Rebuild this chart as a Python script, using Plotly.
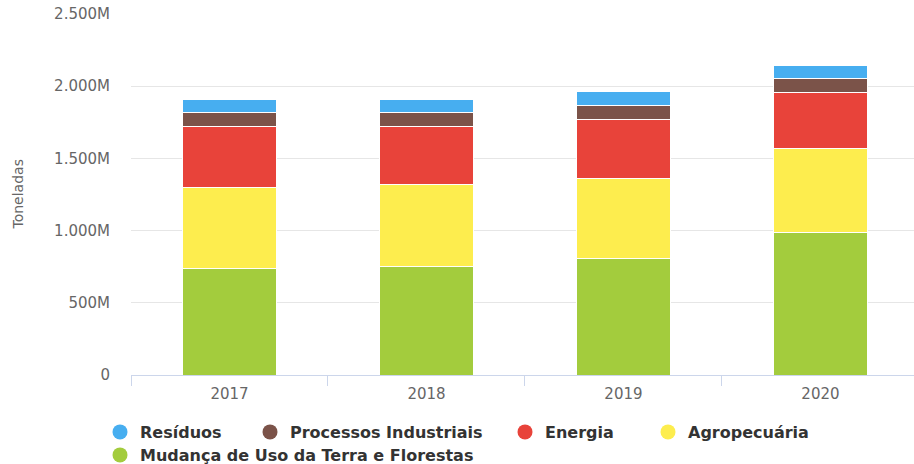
import plotly.graph_objects as go

# Emissões por setor (milhões de toneladas)
anos = ["2017", "2018", "2019", "2020"]
setores = [
    "Mudança de Uso da Terra e Florestas",
    "Agropecuária",
    "Energia",
    "Processos Industriais",
    "Resíduos",
]
mudanca_uso_terra = [736, 752, 807, 988]
agropecuaria = [563, 565, 556, 580]
energia = [425, 403, 407, 386]
processos_industriais = [92, 96, 97, 96]
residuos = [92, 92, 94, 93]

cores = {
    "Mudança de Uso da Terra e Florestas": "#a3cc3d",
    "Agropecuária": "#fded4e",
    "Energia": "#e8433a",
    "Processos Industriais": "#7b5349",
    "Resíduos": "#47aef0",
}
valores = {
    "Mudança de Uso da Terra e Florestas": mudanca_uso_terra,
    "Agropecuária": agropecuaria,
    "Energia": energia,
    "Processos Industriais": processos_industriais,
    "Resíduos": residuos,
}

y_ticks = [0, 500, 1000, 1500, 2000, 2500]
y_tick_text = ["0", "500M", "1.000M", "1.500M", "2.000M", "2.500M"]

# legend entries: (name, symbol centre x in px, row centre y in px)
itens_legenda = [
    ("Resíduos", 120, 432),
    ("Processos Industriais", 270, 432),
    ("Energia", 525, 432),
    ("Agropecuária", 668, 432),
    ("Mudança de Uso da Terra e Florestas", 120, 455),
]

PLOT_L, PLOT_W, PLOT_BOTTOM, PLOT_H = 131, 783, 375, 361

fig = go.Figure()

# stacked bars, bottom segment first
for s in setores:
    fig.add_trace(go.Bar(
        x=anos, y=valores[s], name=s, legendgroup=s, showlegend=False,
        marker=dict(color=cores[s], line=dict(color="#ffffff", width=1)),
    ))

leg_font = dict(family="DejaVu Sans", size=16, color="#333333", weight="bold")
legendas = {}
for i, (s, cx, cy) in enumerate(itens_legenda):
    key = "legend" if i == 0 else f"legend{i + 1}"
    fig.add_trace(go.Scatter(
        x=[None], y=[None], mode="markers", name=s, legendgroup=s, legend=key,
        marker=dict(color=cores[s], size=15, symbol="circle"),
    ))
    legendas[key] = dict(
        orientation="h", x=(cx - 20 - PLOT_L) / PLOT_W, xanchor="left",
        y=(PLOT_BOTTOM - cy) / PLOT_H, yanchor="middle",
        font=leg_font, itemclick=False, bgcolor="rgba(0,0,0,0)",
    )

fig.update_layout(
    width=914, height=464,
    margin=dict(l=131, r=0, t=14, b=89, autoexpand=False),
    barmode="stack", bargap=0.52,
    plot_bgcolor="#ffffff", paper_bgcolor="#ffffff",
    font=dict(family="DejaVu Sans", color="#666666"),
    xaxis=dict(
        range=[-0.5, 3.475], showgrid=False,
        showline=True, linecolor="#ccd6eb", linewidth=1,
        ticks="outside", tickson="boundaries", ticklen=10, tickcolor="#ccd6eb",
        ticklabelstandoff=5,
        tickfont=dict(size=15, color="#666666"),
    ),
    yaxis=dict(
        range=[0, 2500], tickvals=y_ticks, ticktext=y_tick_text,
        showgrid=True, gridcolor="#e6e6e6", gridwidth=1, zeroline=False,
        showline=False, ticks="", ticklabelstandoff=20,
        tickfont=dict(size=15, color="#666666"),
    ),
    annotations=[dict(
        text="Toneladas", textangle=-90, xref="paper", yref="paper",
        x=(17 - PLOT_L) / PLOT_W, y=0.5, xanchor="center", yanchor="middle",
        showarrow=False, font=dict(family="DejaVu Sans", size=14, color="#666666"),
    )],
    **legendas,
)

fig.write_html("out.html")
